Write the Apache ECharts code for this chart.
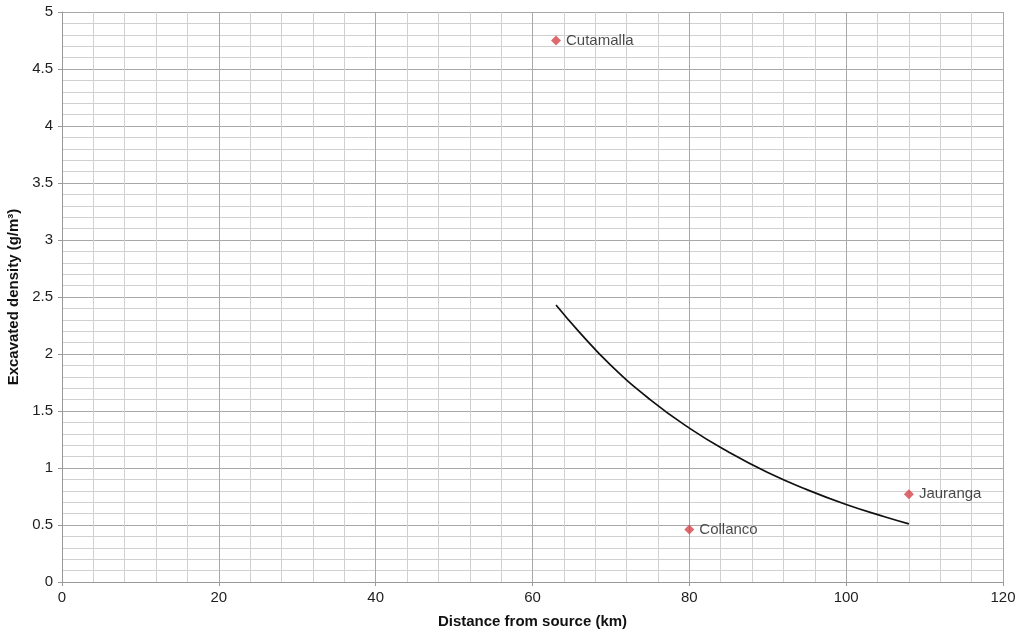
<!DOCTYPE html>
<html><head><meta charset="utf-8">
<script src="https://cdn.jsdelivr.net/npm/echarts@6/dist/echarts.min.js"></script>
<style>html,body{margin:0;padding:0;background:#fff}#c{width:1022px;height:633px}</style>
</head><body><div id="c"></div>
<script>
const siteNames = ['Cutamalla', 'Collanco', 'Jauranga'];
const siteDistance = [63, 80, 108];
const siteDensity = [4.75, 0.46, 0.77];
const curveDistance = [63, 66, 70, 75, 80, 85, 90, 95, 100, 105, 108];
const curveDensity = [2.43, 2.19, 1.90, 1.60, 1.35, 1.14, 0.96, 0.81, 0.68, 0.57, 0.51];
const xTitle = 'Distance from source (km)';
const yTitle = 'Excavated density (g/m³)';

const chart = echarts.init(document.getElementById('c'));
const font = 'Liberation Sans, Arial, sans-serif';
chart.setOption({
  animation: false,
  grid: {left: 62, right: 19, top: 12, bottom: 51, containLabel: false, outerBoundsMode: 'none'},
  xAxis: {
    type: 'value', min: 0, max: 120, interval: 20,
    name: xTitle, nameLocation: 'middle', nameGap: 32,
    nameTextStyle: {fontFamily: font, fontWeight: 'bold', fontSize: 15, color: '#111'},
    axisLine: {show: true, lineStyle: {color: '#999'}},
    axisTick: {show: true, length: 4, lineStyle: {color: '#999'}},
    axisLabel: {fontFamily: font, fontSize: 15, color: '#1e1e1e', margin: 8},
    splitLine: {show: true, lineStyle: {color: '#a8a8a8', width: 1}},
    minorTick: {show: false, splitNumber: 5},
    minorSplitLine: {show: true, lineStyle: {color: '#d0d0d0', width: 1}}
  },
  yAxis: {
    type: 'value', min: 0, max: 5, interval: 0.5,
    name: yTitle, nameLocation: 'middle', nameGap: 37,
    nameTextStyle: {fontFamily: font, fontWeight: 'bold', fontSize: 15, color: '#111'},
    axisLine: {show: true, lineStyle: {color: '#999'}},
    axisTick: {show: true, length: 4, lineStyle: {color: '#999'}},
    axisLabel: {fontFamily: font, fontSize: 15, color: '#1e1e1e', margin: 9},
    splitLine: {show: true, lineStyle: {color: '#a8a8a8', width: 1}},
    minorTick: {show: false, splitNumber: 5},
    minorSplitLine: {show: true, lineStyle: {color: '#d0d0d0', width: 1}}
  },
  series: [
    {
      type: 'line', smooth: 0.5, showSymbol: false,
      data: curveDistance.map((d, i) => [d, curveDensity[i]]),
      lineStyle: {color: '#111', width: 1.7}
    },
    {
      type: 'scatter', symbol: 'diamond', symbolSize: 10,
      itemStyle: {color: '#d6454a'},
      data: siteDistance.map((d, i) => ({value: [d, siteDensity[i]], name: siteNames[i]})),
      label: {show: true, position: 'right', distance: 5, formatter: p => p.name,
        fontFamily: font, fontSize: 15, color: '#1a1a1a'}
    }
  ]
});
</script></body></html>
